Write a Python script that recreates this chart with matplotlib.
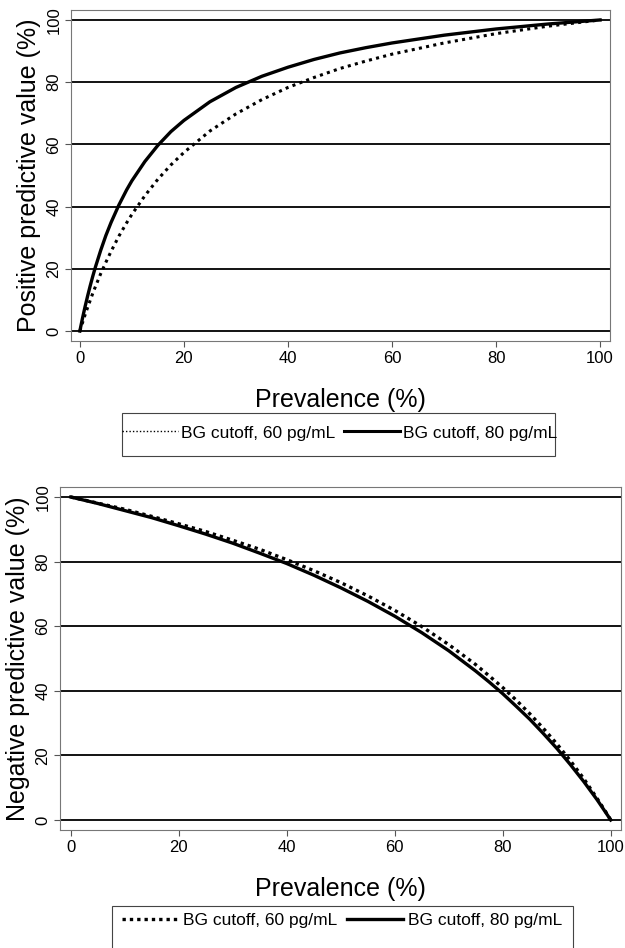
import matplotlib
matplotlib.use("Agg")
import matplotlib.pyplot as plt
from matplotlib.lines import Line2D
from matplotlib.patches import Rectangle

plt.rcParams['font.family'] = ['Liberation Sans', 'DejaVu Sans']

# values (prevalence %, predictive value %)
prev_ppv = [0, 0.5, 1, 1.5, 2, 2.5, 3, 4, 5, 6, 7.5, 9, 10, 12.5, 15, 17.5, 20, 25, 30, 35,
            40, 45, 50, 55, 60, 70, 80, 90, 100]
ppv_60 = [0, 2.6, 5.2, 7.6, 9.9, 12.2, 14.3, 18.4, 22.1, 25.6, 30.5, 34.8, 37.5, 43.5, 48.8,
          53.4, 57.4, 64.3, 69.8, 74.4, 78.3, 81.5, 84.4, 86.8, 89.0, 92.6, 95.6, 98.0, 100]
ppv_80 = [0, 4.05, 7.8, 11.3, 14.6, 17.7, 20.6, 25.9, 30.7, 34.9, 40.5, 45.4, 48.3, 54.5, 59.7,
          64.1, 67.7, 73.7, 78.3, 81.9, 84.8, 87.3, 89.4, 91.1, 92.6, 95.1, 97.1, 98.7, 100]

prev_npv = [0, 5, 10, 15, 20, 25, 30, 35, 40, 45, 50, 55, 60, 65, 70, 75, 77.5, 80, 82.5, 85,
            87.5, 90, 92.5, 95, 97.5, 99, 100]
npv_60 = [100, 98.1, 96.2, 94.0, 91.7, 89.3, 86.6, 83.8, 80.6, 77.2, 73.5, 69.4, 64.9, 59.9,
          54.3, 48.1, 44.6, 41.0, 37.1, 32.9, 28.4, 23.6, 18.4, 12.8, 6.6, 2.7, 0]
npv_80 = [100, 98.0, 95.8, 93.6, 91.1, 88.5, 85.7, 82.6, 79.4, 75.8, 71.9, 67.7, 63.1, 58.0,
          52.4, 46.1, 42.7, 39.1, 35.2, 31.2, 26.8, 22.2, 17.2, 11.9, 6.2, 2.5, 0]

ticks = [0, 20, 40, 60, 80, 100]
lab60 = 'BG cutoff, 60 pg/mL'
lab80 = 'BG cutoff, 80 pg/mL'

W, H = 625, 948
fig = plt.figure(figsize=(W / 100, H / 100), dpi=100)


def px_axes(l, t, r, b):
    return fig.add_axes([l / W, 1 - b / H, (r - l) / W, (b - t) / H])


def style(ax, xlim, ylim, ylabel):
    ax.set_xlim(*xlim)
    ax.set_ylim(*ylim)
    ax.set_xticks(ticks)
    ax.set_yticks(ticks)
    for y in ticks:
        ax.axhline(y, color='black', lw=1.3, zorder=1)
    for s in ax.spines.values():
        s.set_color('#777777')
        s.set_linewidth(0.8)
    ax.tick_params(axis='both', length=4, width=0.8, color='#555555', labelsize=12)
    ax.tick_params(axis='x', pad=3)
    ax.tick_params(axis='y', pad=3, labelrotation=90)
    for lab in ax.get_yticklabels():
        lab.set_va('center')
    ax.set_ylabel(ylabel, fontsize=18, labelpad=4)
    ax.set_xlabel('Prevalence (%)', fontsize=18, labelpad=16)


ax1 = px_axes(71, 10, 610, 341)
ax1.plot(prev_ppv, ppv_60, color='black', lw=2.2, ls=(0, (1, 1.4)), dash_capstyle='butt', zorder=3)
ax1.plot(prev_ppv, ppv_80, color='black', lw=2.4, zorder=3)
style(ax1, (-1.7, 101.9), (-3.2, 103.2), 'Positive predictive value (%)')

ax2 = px_axes(60, 487, 621, 830)
ax2.plot(prev_npv, npv_60, color='black', lw=2.4, ls=(0, (1, 1.2)), dash_capstyle='butt', zorder=3)
ax2.plot(prev_npv, npv_80, color='black', lw=2.4, zorder=3)
style(ax2, (-2, 101.9), (-3.1, 103.1), 'Negative predictive value (%)')

# legend boxes
fig.patches.append(Rectangle((122 / W, 1 - 456 / H), (555 - 122) / W, 43 / H,
                             transform=fig.transFigure, fill=False, ec='#444444', lw=0.8))
fig.patches.append(Rectangle((112 / W, 1 - 960 / H), (573 - 112) / W, 54 / H,
                             transform=fig.transFigure, fill=False, ec='#444444', lw=0.8))

h1 = [Line2D([], [], color='black', lw=1.0, ls=(0, (1, 1.5))),
      Line2D([], [], color='black', lw=2.2)]
h2 = [Line2D([], [], color='black', lw=2.4, ls=(0, (1, 1.2)), dash_capstyle='butt'),
      Line2D([], [], color='black', lw=2.4)]

fig.legend(h1, [lab60, lab80], loc='center', bbox_to_anchor=(340 / W, 1 - 433 / H),
           ncol=2, frameon=False, fontsize=12.5, handlelength=3.2, handletextpad=0.2,
           columnspacing=0.5, borderpad=0)
fig.legend(h2, [lab60, lab80], loc='center', bbox_to_anchor=(342 / W, 1 - 920 / H),
           ncol=2, frameon=False, fontsize=12.5, handlelength=3.2, handletextpad=0.3,
           columnspacing=0.6, borderpad=0)

fig.savefig('out.png', dpi=100)
